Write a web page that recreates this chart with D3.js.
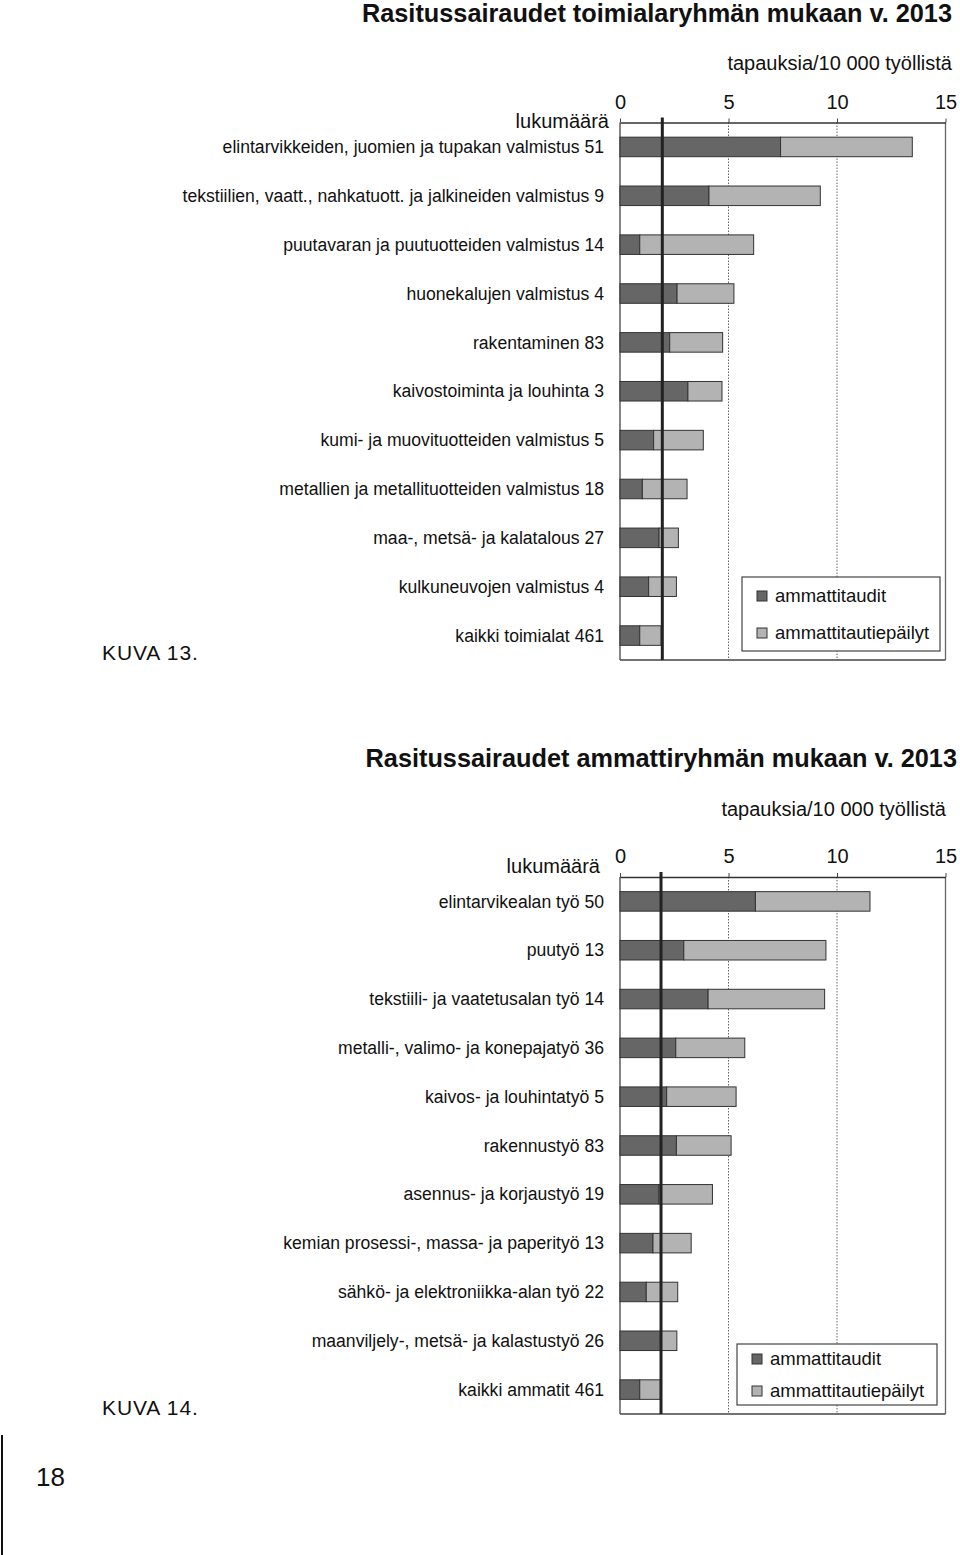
<!DOCTYPE html>
<html>
<head>
<meta charset="utf-8">
<script src="https://cdn.jsdelivr.net/npm/d3@7"></script>
<style>
  body { margin: 0; background: #fff; }
  svg { display: block; }
  text { font-family: "Liberation Sans", Arial, sans-serif; fill: #111; }
</style>
</head>
<body>
<svg id="page" width="960" height="1555"></svg>
<script>
// KUVA 13 - toimialat
var industryLabels = [
  "elintarvikkeiden, juomien ja tupakan valmistus 51",
  "tekstiilien, vaatt., nahkatuott. ja jalkineiden valmistus 9",
  "puutavaran ja puutuotteiden valmistus 14",
  "huonekalujen valmistus 4",
  "rakentaminen 83",
  "kaivostoiminta ja louhinta 3",
  "kumi- ja muovituotteiden valmistus 5",
  "metallien ja metallituotteiden valmistus 18",
  "maa-, metsä- ja kalatalous 27",
  "kulkuneuvojen valmistus 4",
  "kaikki toimialat 461"
];
var industryDiseases  = [7.40, 4.10, 0.91, 2.63, 2.29, 3.13, 1.55, 1.03, 1.80, 1.32, 0.91];
var industrySuspected = [6.07, 5.13, 5.25, 2.62, 2.44, 1.57, 2.29, 2.06, 0.89, 1.28, 0.98];
var industryAverage = 1.95;

// KUVA 14 - ammatit
var occupationLabels = [
  "elintarvikealan työ 50",
  "puutyö 13",
  "tekstiili- ja vaatetusalan työ 14",
  "metalli-, valimo- ja konepajatyö 36",
  "kaivos- ja louhintatyö 5",
  "rakennustyö 83",
  "asennus- ja korjaustyö 19",
  "kemian prosessi-, massa- ja paperityö 13",
  "sähkö- ja elektroniikka-alan työ 22",
  "maanviljely-, metsä- ja kalastustyö 26",
  "kaikki ammatit 461"
];
var occupationDiseases  = [6.24, 2.94, 4.06, 2.57, 2.15, 2.60, 1.80, 1.52, 1.21, 1.89, 0.91];
var occupationSuspected = [5.28, 6.55, 5.37, 3.18, 3.20, 2.52, 2.46, 1.76, 1.45, 0.73, 0.95];
var occupationAverage = 1.89;

var xTicks = [0, 5, 10, 15];
var seriesNames = ["ammattitaudit", "ammattitautiepäilyt"];
var seriesColors = ["#666666", "#b3b3b3"];

var svg = d3.select("#page");

function drawChart(opt) {
  var g = svg.append("g");
  var x = d3.scaleLinear().domain([0, 15]).range([620, 945.5]);
  var y = d3.scaleBand().domain(opt.labels).range([opt.top, opt.bottom])
      .paddingInner(0.6).paddingOuter(0.3);

  // title and units
  g.append("text").attr("x", opt.titleRight).attr("y", opt.titleY)
    .attr("text-anchor", "end").attr("font-size", 25.3).attr("font-weight", "bold")
    .text(opt.title);
  g.append("text").attr("x", opt.unitRight).attr("y", opt.unitY)
    .attr("text-anchor", "end").attr("font-size", 20)
    .text("tapauksia/10 000 työllistä");
  g.append("text").attr("x", opt.countRight).attr("y", opt.countY)
    .attr("text-anchor", "end").attr("font-size", 20)
    .text("lukumäärä");

  // grid lines
  g.selectAll(".grid").data([5, 10]).enter().append("line")
    .attr("x1", d => x(d)).attr("x2", d => x(d))
    .attr("y1", opt.top).attr("y2", opt.bottom)
    .attr("stroke", "#666").attr("stroke-width", 1)
    .attr("stroke-dasharray", "1.5,1.5");

  // frame
  g.append("line").attr("x1", x(0)).attr("x2", x(0)).attr("y1", opt.top).attr("y2", opt.bottom)
    .attr("stroke", "#444").attr("stroke-width", 1.3);
  g.append("line").attr("x1", x(15)).attr("x2", x(15)).attr("y1", opt.top).attr("y2", opt.bottom)
    .attr("stroke", "#666").attr("stroke-width", 1.3);
  g.append("line").attr("x1", x(0)).attr("x2", x(15)).attr("y1", opt.bottom).attr("y2", opt.bottom)
    .attr("stroke", "#444").attr("stroke-width", 1.3);

  // axis on top
  var axis = d3.axisTop(x).tickValues(xTicks).tickSizeInner(4).tickSizeOuter(0).tickPadding(10);
  var ax = g.append("g").attr("transform", "translate(0," + opt.top + ")").call(axis);
  ax.select(".domain").attr("stroke", "#333").attr("stroke-width", 1.3);
  ax.selectAll(".tick line").attr("stroke", "#444");
  ax.selectAll(".tick text").attr("font-size", 20).attr("fill", "#111")
    .attr("font-family", "Liberation Sans, Arial, sans-serif");

  // bars
  var rows = opt.labels.map(function (l, i) {
    return { label: l, dis: opt.diseases[i], sus: opt.suspected[i] };
  });
  var row = g.selectAll(".row").data(rows).enter().append("g");
  row.append("rect")
    .attr("x", x(0)).attr("y", d => y(d.label))
    .attr("width", d => x(d.dis) - x(0)).attr("height", y.bandwidth())
    .attr("fill", seriesColors[0]).attr("stroke", "#333").attr("stroke-width", 1);
  row.append("rect")
    .attr("x", d => x(d.dis)).attr("y", d => y(d.label))
    .attr("width", d => x(d.dis + d.sus) - x(d.dis)).attr("height", y.bandwidth())
    .attr("fill", seriesColors[1]).attr("stroke", "#333").attr("stroke-width", 1);
  row.append("text")
    .attr("x", opt.labelRight).attr("y", d => y(d.label) + y.bandwidth() / 2)
    .attr("dy", "0.35em").attr("text-anchor", "end").attr("font-size", 17.6)
    .text(d => d.label);

  // average line
  g.append("line")
    .attr("x1", x(opt.average)).attr("x2", x(opt.average))
    .attr("y1", opt.top - 5).attr("y2", opt.bottom)
    .attr("stroke", "#222").attr("stroke-width", 3);

  // legend
  var lg = g.append("g");
  lg.append("rect").attr("x", opt.legend.x).attr("y", opt.legend.y)
    .attr("width", opt.legend.w).attr("height", opt.legend.h)
    .attr("fill", "#fff").attr("stroke", "#444").attr("stroke-width", 1.2);
  var item = lg.selectAll(".item").data(seriesNames).enter().append("g")
    .attr("transform", (d, i) => "translate(" + (opt.legend.x + 15) + "," + opt.legend.rows[i] + ")");
  item.append("rect").attr("x", 0).attr("y", -5).attr("width", 10).attr("height", 10)
    .attr("fill", (d, i) => seriesColors[i]).attr("stroke", "#333").attr("stroke-width", 1);
  item.append("text").attr("x", 18).attr("y", 0).attr("dy", "0.35em")
    .attr("font-size", 18.5).text(d => d);

  // figure number
  g.append("text").attr("x", 102).attr("y", opt.kuvaY)
    .attr("font-family", "DejaVu Sans, sans-serif").attr("font-size", 21)
    .attr("letter-spacing", 0.9).attr("fill", "#222")
    .text(opt.kuva);
}

drawChart({
  title: "Rasitussairaudet toimialaryhmän mukaan v. 2013",
  titleRight: 952, titleY: 22,
  unitRight: 952, unitY: 70,
  countRight: 609, countY: 128,
  labels: industryLabels, diseases: industryDiseases, suspected: industrySuspected,
  average: industryAverage,
  top: 122.5, bottom: 660, labelRight: 604,
  legend: { x: 742, y: 577, w: 198, h: 74, rows: [596, 633] },
  kuva: "KUVA 13.", kuvaY: 660
});

drawChart({
  title: "Rasitussairaudet ammattiryhmän mukaan v. 2013",
  titleRight: 957, titleY: 767,
  unitRight: 946, unitY: 816,
  countRight: 600, countY: 873,
  labels: occupationLabels, diseases: occupationDiseases, suspected: occupationSuspected,
  average: occupationAverage,
  top: 877, bottom: 1414, labelRight: 604,
  legend: { x: 737, y: 1344, w: 200, h: 61, rows: [1359, 1391] },
  kuva: "KUVA 14.", kuvaY: 1415
});

// page number and margin line
svg.append("line").attr("x1", 2).attr("x2", 2).attr("y1", 1435).attr("y2", 1555)
  .attr("stroke", "#111").attr("stroke-width", 2);
svg.append("text").attr("x", 36).attr("y", 1486)
  .attr("font-family", "Noto Sans, sans-serif").attr("font-size", 26).attr("fill", "#222")
  .text("18");
</script>
</body>
</html>
